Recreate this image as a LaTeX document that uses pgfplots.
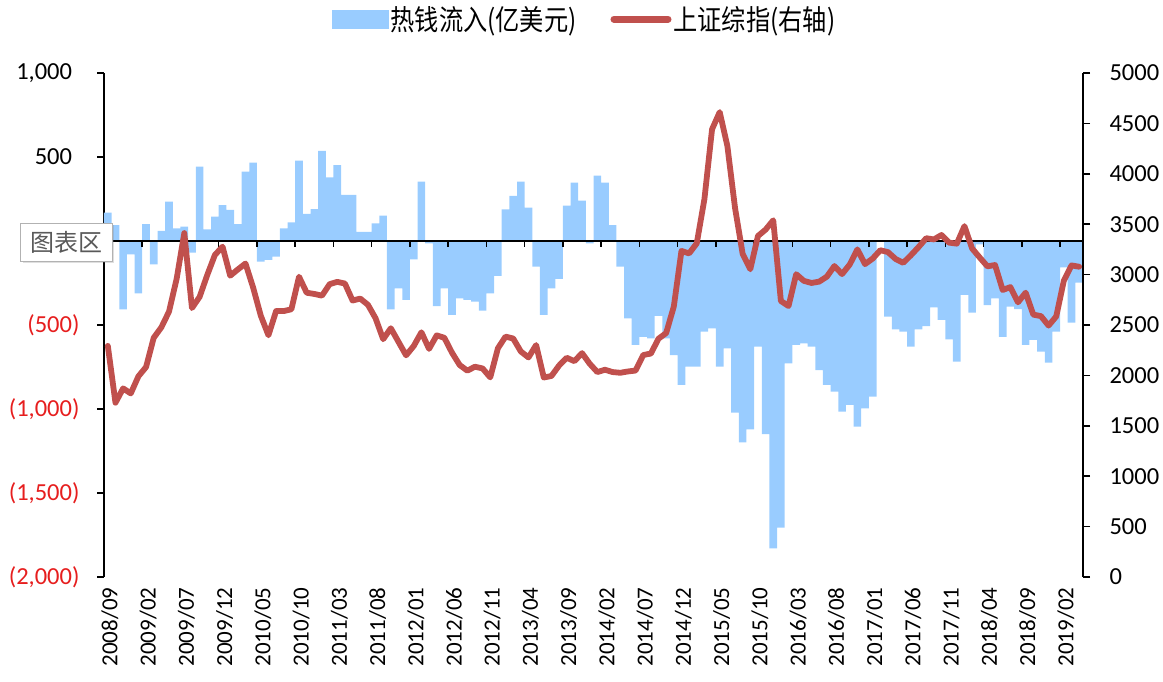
\documentclass[border=0pt]{standalone}
\usepackage{pgfplots}
\usepackage{pgfplotstable}
\pgfplotsset{compat=1.18}
\usetikzlibrary{shadows}
\usepackage{fontspec}
\setmainfont{Carlito}
\newfontfamily\cjk[FakeStretch=0.85]{Noto Sans CJK SC}
\newfontfamily\cjkbox{Noto Sans CJK SC}
\definecolor{hotblue}{RGB}{153,204,255}
\definecolor{idxred}{RGB}{192,80,77}
\definecolor{negred}{RGB}{230,30,30}

\pgfplotstableread{
x y
0 169
1 95
2 -407
3 -79
4 -312
5 101
6 -139
7 60
8 234
9 75
10 85
11 -69
12 442
13 69
14 145
15 214
16 185
17 101
18 413
19 466
20 -123
21 -113
22 -93
23 75
24 111
25 478
26 161
27 190
28 536
29 379
30 452
31 274
32 274
33 55
34 55
35 105
36 151
37 -407
38 -282
39 -351
40 -109
41 353
42 -14
43 -387
44 -282
45 -440
46 -341
47 -351
48 -361
49 -415
50 -312
51 -208
52 188
53 268
54 353
55 198
56 -153
57 -440
58 -282
59 -226
60 210
61 347
62 240
63 -14
64 389
65 347
66 95
67 -153
68 -460
69 -619
70 -570
71 -580
72 -446
73 -580
74 -679
75 -857
76 -748
77 -748
78 -540
79 -520
80 -748
81 -639
82 -1022
83 -1198
84 -1121
85 -629
86 -1149
87 -1829
88 -1706
89 -728
90 -619
91 -609
92 -629
93 -768
94 -857
95 -897
96 -1016
97 -976
98 -1105
99 -996
100 -927
101 -5
102 -450
103 -526
104 -540
105 -629
106 -526
107 -506
108 -395
109 -470
110 -585
111 -718
112 -321
113 -427
114 -20
115 -381
116 -341
117 -570
118 -391
119 -405
120 -619
121 -589
122 -659
123 -724
124 -540
125 -157
126 -486
127 -248
}\bars

\pgfplotstableread{
x y
0 2293
1 1729
2 1871
3 1821
4 1991
5 2083
6 2373
7 2477
8 2633
9 2959
10 3412
11 2668
12 2779
13 2996
14 3195
15 3277
16 2989
17 3051
18 3110
19 2871
20 2592
21 2398
22 2638
23 2638
24 2656
25 2979
26 2820
27 2808
28 2791
29 2905
30 2928
31 2911
32 2743
33 2762
34 2701
35 2568
36 2359
37 2468
38 2333
39 2199
40 2292
41 2428
42 2263
43 2397
44 2373
45 2225
46 2103
47 2047
48 2086
49 2069
50 1980
51 2269
52 2385
53 2366
54 2237
55 2178
56 2301
57 1979
58 1994
59 2098
60 2175
61 2141
62 2221
63 2116
64 2033
65 2056
66 2033
67 2026
68 2039
69 2048
70 2202
71 2217
72 2364
73 2420
74 2683
75 3235
76 3210
77 3310
78 3748
79 4442
80 4612
81 4277
82 3664
83 3206
84 3053
85 3383
86 3446
87 3539
88 2738
89 2688
90 3004
91 2938
92 2917
93 2930
94 2979
95 3085
96 3005
97 3100
98 3250
99 3104
100 3159
101 3242
102 3223
103 3155
104 3117
105 3192
106 3273
107 3361
108 3349
109 3393
110 3317
111 3307
112 3481
113 3259
114 3169
115 3082
116 3095
117 2847
118 2876
119 2725
120 2821
121 2603
122 2588
123 2494
124 2585
125 2941
126 3091
127 3078
}\idx

\begin{document}
\begin{tikzpicture}
\useasboundingbox (-104bp,-105bp) rectangle (1059bp,577bp);
\pgfplotsset{base/.style={at={(0,0)}, anchor=south west, scale only axis,
  width=979bp, height=504bp, xmin=-0.5, xmax=127.5,
  tick label style={font=\fontsize{23bp}{25bp}\selectfont}}}

% bars + left axis + bottom labels
\begin{axis}[base, ymin=-2000, ymax=1000,
  axis y line*=left, axis x line*=bottom,
  x axis line style={draw=none},
  y axis line style={line width=1.6bp, black},
  xtick={0,5,...,125},
  xticklabels={2008/09,2009/02,2009/07,2009/12,2010/05,2010/10,2011/03,2011/08,2012/01,2012/06,2012/11,2013/04,2013/09,2014/02,2014/07,2014/12,2015/05,2015/10,2016/03,2016/08,2017/01,2017/06,2017/11,2018/04,2018/09,2019/02},
  x tick style={draw=none},
  xticklabel style={rotate=90, anchor=east, yshift=-2bp},
  ytick={-2000,-1500,...,1000},
  yticklabels={{\textcolor{negred}{(2,000)}},{\textcolor{negred}{(1,500)}},{\textcolor{negred}{(1,000)}},{\textcolor{negred}{(500)}},{},{500\hphantom{)}},{1,000\hphantom{)}}},
  yticklabel style={font=\fontsize{24.5bp}{26bp}\selectfont, xshift=-14bp},
  y tick style={line width=1.5bp, black},
  tick align=outside, major tick length=7bp,
]
\addplot[ybar, bar width=1, fill=hotblue, draw=none] table[x=x,y=y] {\bars};
\end{axis}

% zero line with ticks
\begin{axis}[at={(0,336bp)}, anchor=south west, scale only axis,
  width=979bp, height=168bp, xmin=-0.5, xmax=127.5, ymin=0, ymax=1,
  axis y line=none, axis x line*=bottom,
  x axis line style={line width=2bp, black},
  xtick={4.5,9.5,...,124.5}, xticklabels={},
  x tick style={line width=1.5bp, black},
  tick align=outside, major tick length=6bp]
\end{axis}

% index line + right axis + legend
\begin{axis}[base, ymin=0, ymax=5000,
  axis y line*=right, axis x line=none,
  y axis line style={line width=1.6bp, black},
  ytick={0,500,...,5000},
  yticklabels={0,500,1000,1500,2000,2500,3000,3500,4000,4500,5000},
  yticklabel style={font=\fontsize{24.5bp}{26bp}\selectfont, xshift=16bp},
  y tick style={line width=1.5bp, black},
  tick align=outside, major tick length=7bp,
  legend columns=2,
  legend style={at={(0.491,1.107)}, anchor=center, draw=none, fill=none,
    font=\cjk\fontsize{28.5bp}{30bp}\selectfont,
    /tikz/every even column/.append style={column sep=32bp}},
]
\addlegendimage{legend image code/.code={\fill[hotblue] (0bp,-9bp) rectangle (56bp,9bp);}}
\addlegendentry{热钱流入(亿美元)}
\addplot[idxred, line width=5.8bp, line join=round, line cap=round,
  legend image code/.code={\draw[idxred, line width=7bp, line cap=round] (3bp,0bp) -- (57bp,0bp);}]
  table[x=x,y=y] {\idx};
\addlegendentry{上证综指(右轴)}
\end{axis}

\node[draw=gray!60, fill=white, line width=1bp, minimum width=91bp, minimum height=38bp,
  inner sep=2bp, text=black!65, font=\cjkbox\fontsize{24bp}{26bp}\selectfont,
  drop shadow={opacity=0.25, shadow xshift=2bp, shadow yshift=-2bp}]
  at (-37.5bp,334.5bp) {图表区};
\end{tikzpicture}
\end{document}
